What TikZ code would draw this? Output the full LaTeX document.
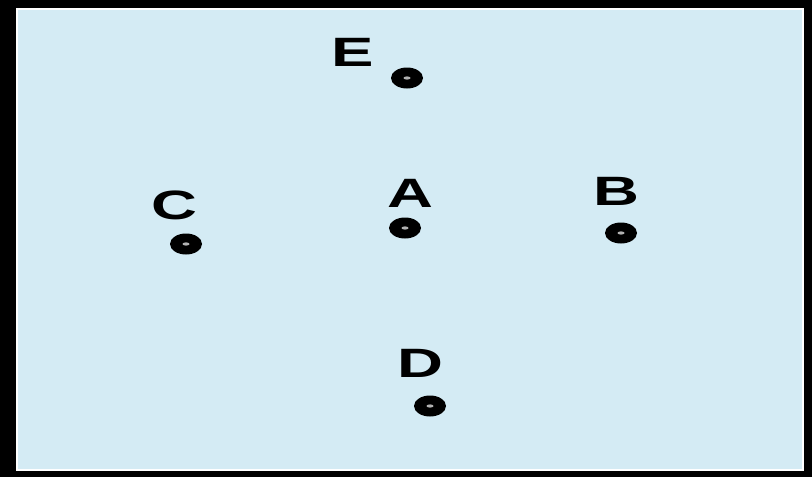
\documentclass[tikz,border=0pt]{standalone}
\usepackage{fontspec}
\setmainfont{Liberation Sans}
\usepackage{tikz}
\usetikzlibrary{shapes.geometric}
\definecolor{PlaneBlue}{RGB}{212,235,244}
\newcommand{\widelet}[1]{\scalebox{1.55}[1]{#1}}

\begin{document}
\begin{tikzpicture}[
    x=1pt, y=-1pt,
    dot/.style={ellipse, fill=black, minimum width=32pt, minimum height=21pt,
                inner sep=0pt,
                path picture={\fill[white!70!black] (path picture bounding box.center)
                              ellipse (3.5pt and 1.6pt);}},
    lbl/.style={inner sep=0pt, font=\fontsize{41}{41}\selectfont\bfseries}
]
\useasboundingbox (0,0) rectangle (812,477);
\fill[black] (0,0) rectangle (812,477);
\filldraw[fill=PlaneBlue, draw=white, line width=1.5pt] (17,9) rectangle (803,470);

\node[dot] (E) at (407,78)  {};
\node[dot] (A) at (405,228) {};
\node[dot] (C) at (186,244) {};
\node[dot] (B) at (621,233) {};
\node[dot] (D) at (430,406) {};

\node[lbl] (labE) at (353,52)  {\widelet{E}};
\node[lbl] (labA) at (410,193) {\widelet{A}};
\node[lbl] (labC) at (174,205) {\widelet{C}};
\node[lbl] (labB) at (616,191) {\widelet{B}};
\node[lbl] (labD) at (420,363) {\widelet{D}};
\end{tikzpicture}
\end{document}
